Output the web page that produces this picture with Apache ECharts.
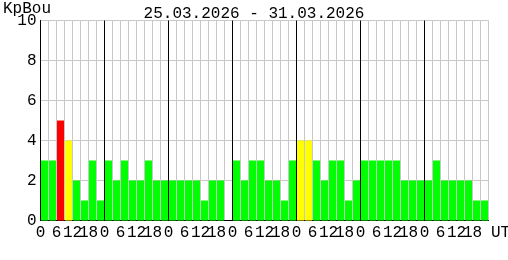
<!DOCTYPE html>
<html>
<head>
<meta charset="utf-8">
<script src="https://cdn.jsdelivr.net/npm/echarts@6/dist/echarts.min.js"></script>
<style>
html,body{margin:0;padding:0;background:#fff;}
#chart{width:508px;height:260px;}
</style>
</head>
<body>
<div id="chart"></div>
<script>
// Data (3-hourly Kp index, 8 intervals per day)
const startDate = "25.03.2026";
const endDate = "31.03.2026";
const yLabel = "KpBou";
const xUnit = "UT";
const hourLabels = ["0", "6", "12", "18"];
const dayStarts = [24, 48, 72, 96, 120, 144];
const kp = [
  3, 3, 5, 4, 2, 1, 3, 1,
  3, 2, 3, 2, 2, 3, 2, 2,
  2, 2, 2, 2, 1, 2, 2, 0,
  3, 2, 3, 3, 2, 2, 1, 3,
  4, 4, 3, 2, 3, 3, 1, 2,
  3, 3, 3, 3, 3, 2, 2, 2,
  2, 3, 2, 2, 2, 2, 1, 1
];

const FONT = "Liberation Mono";
const chart = echarts.init(document.getElementById('chart'), null, {renderer: 'canvas'});
chart.setOption({
  animation: false,
  backgroundColor: '#ffffff',
  title: {
    text: startDate + " - " + endDate,
    left: 'center',
    top: 1,
    textStyle: {fontFamily: FONT, fontSize: 16, fontWeight: 'normal', color: '#000'}
  },
  graphic: [
    {type: 'text', left: 3, top: 1, style: {text: yLabel, font: '16px "Liberation Mono"', fill: '#000'}},
    {type: 'text', left: 491, top: 225, style: {text: xUnit, font: '16px "Liberation Mono"', fill: '#000'}}
  ],
  grid: {left: 40.5, right: 19.5, top: 20.5, bottom: 39.5},
  xAxis: {
    type: 'value',
    min: 0, max: 168, interval: 6,
    axisLine: {show: true, lineStyle: {color: '#000', width: 1}},
    axisTick: {show: false},
    minorTick: {show: false, splitNumber: 2},
    splitLine: {show: true, lineStyle: {color: '#c8c8c8', width: 1}},
    minorSplitLine: {show: true, lineStyle: {color: '#c8c8c8', width: 1}},
    axisLabel: {
      fontFamily: FONT, fontSize: 16, color: '#000', margin: 4,
      showMaxLabel: false,
      formatter: v => (v < 168 ? hourLabels[(v % 24) / 6] : '')
    }
  },
  yAxis: {
    type: 'value',
    min: 0, max: 10, interval: 2,
    axisLine: {show: true, lineStyle: {color: '#000', width: 1}},
    axisTick: {show: false},
    splitLine: {show: true, lineStyle: {color: '#c8c8c8', width: 1}},
    axisLabel: {fontFamily: FONT, fontSize: 16, color: '#000', margin: 4}
  },
  series: [{
    type: 'bar',
    barWidth: 7,
    data: kp.map((v, i) => [i * 3 + 1.5, v]),
    itemStyle: {
      color: p => (p.value[1] >= 5 ? '#ff0000' : (p.value[1] >= 4 ? '#ffff00' : '#00ff00'))
    },
    markLine: {
      silent: true,
      symbol: ['none', 'none'],
      label: {show: false},
      lineStyle: {color: '#000', width: 1, type: 'solid'},
      data: dayStarts.map(d => ({xAxis: d}))
    }
  }]
});
</script>
</body>
</html>
